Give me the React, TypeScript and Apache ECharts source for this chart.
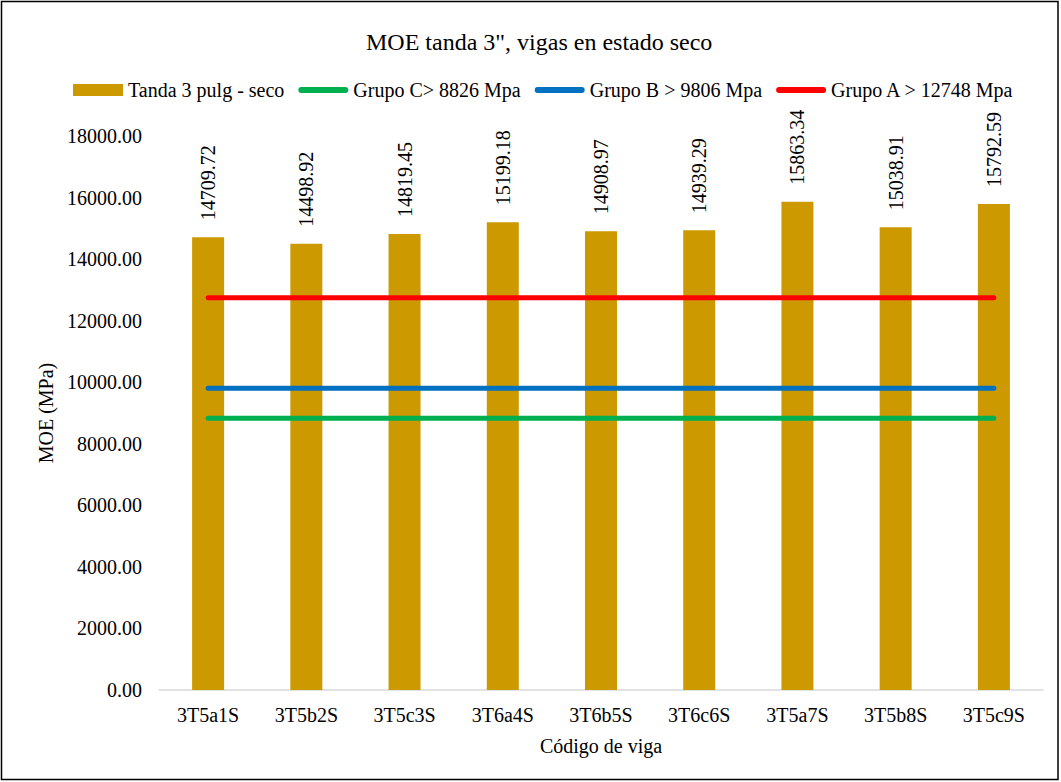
import React, { useEffect, useRef } from "react";
import * as echarts from "echarts";

const categories = ["3T5a1S", "3T5b2S", "3T5c3S", "3T6a4S", "3T6b5S", "3T6c6S", "3T5a7S", "3T5b8S", "3T5c9S"];
const moeValues = [14709.72, 14498.92, 14819.45, 15199.18, 14908.97, 14939.29, 15863.34, 15038.91, 15792.59];
const grupoC = [8826, 8826, 8826, 8826, 8826, 8826, 8826, 8826, 8826];
const grupoB = [9806, 9806, 9806, 9806, 9806, 9806, 9806, 9806, 9806];
const grupoA = [12748, 12748, 12748, 12748, 12748, 12748, 12748, 12748, 12748];
const yTicks = { min: 0, max: 18000, interval: 2000 };

const FONT = "Liberation Serif";
// Rounded bar used as the legend icon of the threshold lines
const LINE_ICON = "path://M3,0 H47 A3,3 0 0 1 47,6 H3 A3,3 0 0 1 3,0 Z";

export default function App() {
  const ref = useRef<HTMLDivElement>(null);

  useEffect(() => {
    if (!ref.current) return;
    const chart = echarts.init(ref.current, null, { renderer: "svg" });
    const lineSeries = (name: string, data: number[], color: string) => ({
      name,
      type: "line",
      data,
      symbol: "none",
      showSymbol: false,
      lineStyle: { color, width: 5, cap: "round" },
      itemStyle: { color },
      z: 3,
    });
    chart.setOption({
      animation: false,
      backgroundColor: "#ffffff",
      textStyle: { fontFamily: FONT, color: "#000" },
      graphic: [
        {
          type: "rect",
          shape: { x: 1.5, y: 1.5, width: 1056.5, height: 778 },
          style: { fill: "none", stroke: "#000", lineWidth: 1.5 },
          silent: true,
          z: 100,
        },
      ],
      title: {
        text: 'MOE tanda 3", vigas en estado seco',
        left: 361,
        top: 25,
        textStyle: { fontFamily: FONT, fontSize: 24, fontWeight: "normal", color: "#000" },
      },
      legend: {
        top: 75,
        left: 68,
        itemWidth: 50,
        itemHeight: 12,
        itemGap: 14,
        textStyle: { fontFamily: FONT, fontSize: 20, color: "#000" },
        data: [
          { name: "Tanda 3 pulg - seco", icon: "rect" },
          { name: "Grupo C> 8826 Mpa", icon: LINE_ICON },
          { name: "Grupo B > 9806 Mpa", icon: LINE_ICON },
          { name: "Grupo A > 12748 Mpa", icon: LINE_ICON },
        ],
      },
      grid: { left: 159, right: 18, top: 136, bottom: 92, containLabel: false },
      xAxis: {
        type: "category",
        data: categories,
        name: "Código de viga",
        nameLocation: "middle",
        nameGap: 46,
        nameTextStyle: { fontFamily: FONT, fontSize: 20, color: "#000" },
        axisLine: { lineStyle: { color: "#d9d9d9", width: 1.5 } },
        axisTick: { show: false },
        axisLabel: { fontFamily: FONT, fontSize: 20, color: "#000", margin: 15 },
      },
      yAxis: {
        type: "value",
        min: yTicks.min,
        max: yTicks.max,
        interval: yTicks.interval,
        name: "MOE (MPa)",
        nameLocation: "middle",
        nameGap: 97,
        nameTextStyle: { fontFamily: FONT, fontSize: 20, color: "#000" },
        axisLine: { show: false },
        axisTick: { show: false },
        splitLine: { show: false },
        axisLabel: {
          fontFamily: FONT,
          fontSize: 20,
          color: "#000",
          margin: 17,
          formatter: (v: number) => v.toFixed(2),
        },
      },
      series: [
        {
          name: "Tanda 3 pulg - seco",
          type: "bar",
          data: moeValues,
          barWidth: 32,
          itemStyle: { color: "#CC9900" },
          z: 2,
          label: {
            show: true,
            position: "top",
            rotate: 90,
            align: "left",
            verticalAlign: "middle",
            distance: 17,
            fontFamily: FONT,
            fontSize: 20,
            color: "#000",
            formatter: (p: any) => Number(p.value).toFixed(2),
          },
        },
        lineSeries("Grupo C> 8826 Mpa", grupoC, "#00B050"),
        lineSeries("Grupo B > 9806 Mpa", grupoB, "#0070C0"),
        lineSeries("Grupo A > 12748 Mpa", grupoA, "#FF0000"),
      ],
    });
    return () => chart.dispose();
  }, []);

  return (
    <div style={{ position: "fixed", left: 0, top: 0, width: 1061, height: 782, background: "#fff" }}>
      <div ref={ref} style={{ position: "absolute", left: 0, top: 0, width: 1061, height: 782 }} />
    </div>
  );
}
